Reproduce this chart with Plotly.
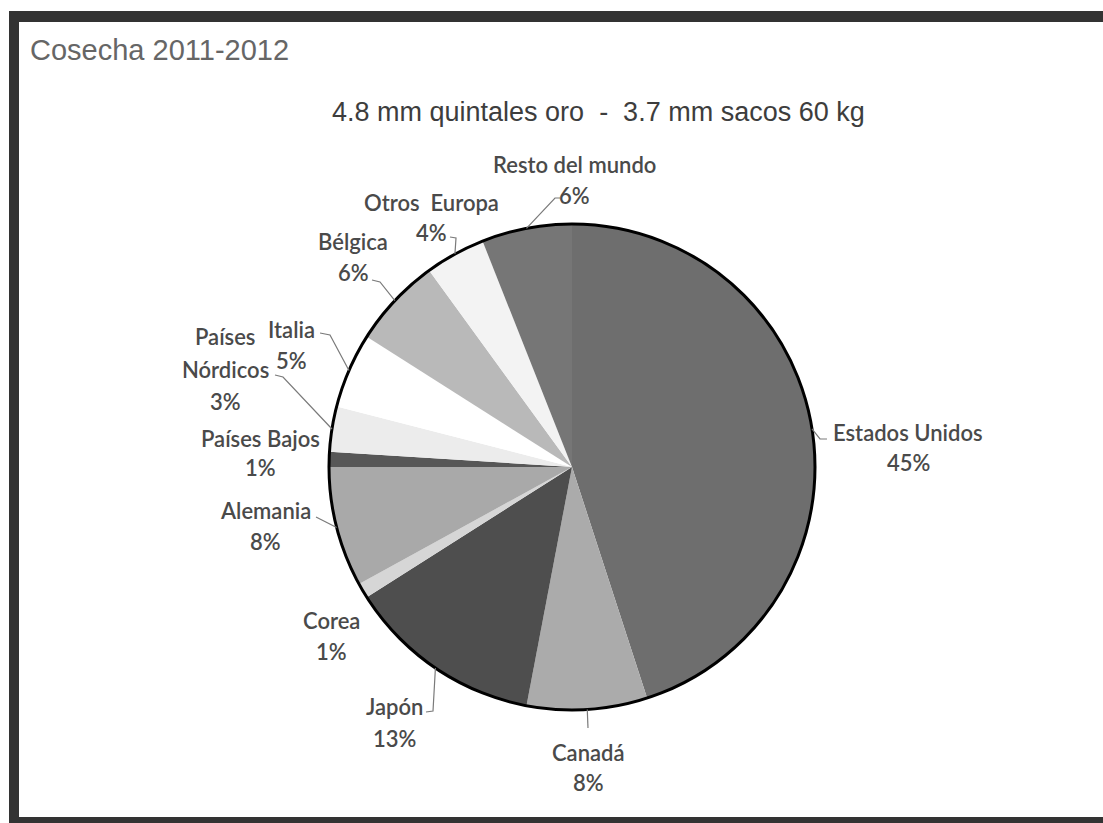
import math
import plotly.graph_objects as go

# Canvas size in pixels (margins are zero, so paper units map straight onto it)
W, H = 1103, 823

# ---- data -------------------------------------------------------------
paises = [
    "Estados Unidos", "Canadá", "Japón", "Corea", "Alemania", "Países Bajos",
    "Países\nNórdicos", "Italia", "Bélgica", "Otros  Europa", "Resto del mundo",
]
participacion = [45, 8, 13, 1, 8, 1, 3, 5, 6, 4, 6]

titulo = "Cosecha 2011-2012"
subtitulo = "4.8 mm quintales oro  -  3.7 mm sacos 60 kg"

# ---- styling ----------------------------------------------------------
tonos = [
    "#6e6e6e", "#ababab", "#4e4e4e", "#d6d6d6", "#a9a9a9", "#575757",
    "#ececec", "#ffffff", "#b9b9b9", "#f3f3f3", "#767676",
]

# pie centre and radius in pixels
CX, CY, R = 572, 467, 243

# label block: centre x, centre y of first line, line pitch
pos_etiqueta = [
    (908, 432, 30), (588, 752, 30), (394, 706, 32), (331, 620, 31),
    (265, 510, 31), (260, 438, 30), (225, 337, 32), (291, 330, 30),
    (353, 242, 30), (431, 202, 30), (575, 165, 30),
]
# leader line vertices after the point on the rim (None = no leader)
guias = [
    [(820, 439), (827, 439)],
    [(588, 728)],
    [(433, 711), (426, 712)],
    None,
    [(316, 517)],
    None,
    [(283, 377), (275, 375)],
    [(330, 335), (320, 333)],
    [(380, 282), (372, 280)],
    [(456, 238), (450, 237)],
    [(555, 198), (560, 198)],
]

FONT_LABEL = "Lato"
COLOR_LABEL = "#4a4a4a"


def px(x):
    return x / W


def py(y):
    return 1 - y / H


fig = go.Figure(
    go.Pie(
        labels=[p.replace("\n", " ") for p in paises],
        values=participacion,
        sort=False,
        direction="clockwise",
        rotation=0,
        marker=dict(colors=tonos, line=dict(width=0)),
        textinfo="none",
        hoverinfo="label+percent",
        showlegend=False,
        domain=dict(x=[px(CX - R), px(CX + R)], y=[py(CY + R), py(CY - R)]),
    )
)

shapes = []
annotations = []

# rim outline
shapes.append(dict(
    type="circle", xref="paper", yref="paper",
    x0=px(CX - R), x1=px(CX + R), y0=py(CY + R), y1=py(CY - R),
    line=dict(color="#000000", width=3), fillcolor="rgba(0,0,0,0)",
))

# labels and leader lines, anchored on each slice's mid-angle
total = sum(participacion)
acum = 0
for nombre, val, (lx, ly, paso), guia in zip(paises, participacion, pos_etiqueta, guias):
    medio = (acum + val / 2) / total * 2 * math.pi
    acum += val
    bx = CX + R * math.sin(medio)
    by = CY - R * math.cos(medio)
    if guia:
        pts = [(bx, by)] + guia
        path = "M " + " L ".join(f"{px(x):.5f},{py(y):.5f}" for x, y in pts)
        shapes.append(dict(type="path", xref="paper", yref="paper", path=path,
                           line=dict(color="#7a7a7a", width=1.2)))
    lineas = nombre.split("\n") + [f"{round(val / total * 100)}%"]
    for i, t in enumerate(lineas):
        annotations.append(dict(
            text=t, x=px(lx), y=py(ly + i * paso), xref="paper", yref="paper",
            xanchor="center", yanchor="middle", showarrow=False,
            font=dict(family=FONT_LABEL, size=22, color=COLOR_LABEL, weight=600),
        ))

# heading texts
annotations.append(dict(
    text=titulo, x=px(28), y=py(50), xref="paper", yref="paper",
    xanchor="left", yanchor="middle", showarrow=False,
    font=dict(family="Liberation Sans", size=29, color="#666666"),
))
annotations.append(dict(
    text=subtitulo.replace("  ", "\u00a0 "), x=px(598), y=py(112),
    xref="paper", yref="paper", xanchor="center", yanchor="middle", showarrow=False,
    font=dict(family="Liberation Sans", size=27, color="#3d3d3d"),
))

# dark frame (left, top, bottom edges)
marco = "#333333"
shapes += [
    dict(type="rect", xref="paper", yref="paper", x0=px(9), x1=px(19), y0=py(H), y1=py(11),
         fillcolor=marco, line=dict(width=0)),
    dict(type="rect", xref="paper", yref="paper", x0=px(9), x1=1.0, y0=py(22), y1=py(11),
         fillcolor=marco, line=dict(width=0)),
    dict(type="rect", xref="paper", yref="paper", x0=px(9), x1=1.0, y0=py(H), y1=py(817),
         fillcolor=marco, line=dict(width=0)),
]

fig.update_layout(
    width=W, height=H,
    margin=dict(l=0, r=0, t=0, b=0),
    paper_bgcolor="#ffffff", plot_bgcolor="#ffffff",
    shapes=shapes, annotations=annotations,
)

fig.write_html("out.html")
